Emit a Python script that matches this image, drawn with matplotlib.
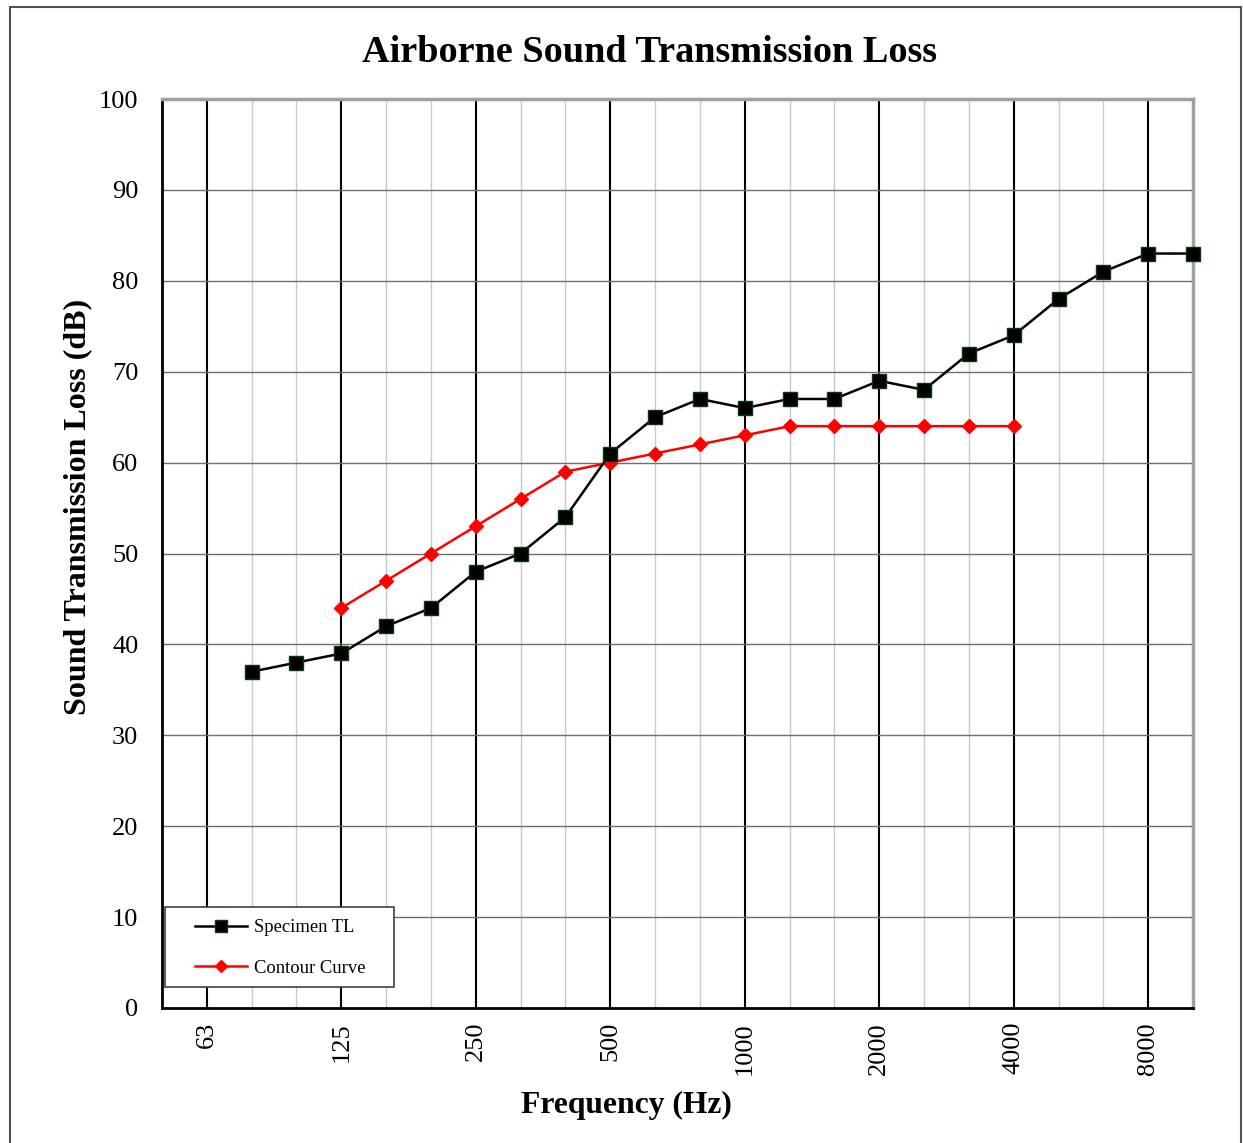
import matplotlib.pyplot as plt
from matplotlib.patches import Rectangle

# Third-octave bands
bands = ["63", "80", "100", "125", "160", "200", "250", "315", "400", "500", "630", "800",
         "1000", "1250", "1600", "2000", "2500", "3150", "4000", "5000", "6300", "8000", "10000"]
octave_labels = ["63", "125", "250", "500", "1000", "2000", "4000", "8000"]

# Specimen TL, 80 Hz .. 10000 Hz
specimen_bands = bands[1:]
specimen_tl = [37, 38, 39, 42, 44, 48, 50, 54, 61, 65, 67, 66, 67, 67, 69, 68, 72, 74, 78, 81, 83, 83]

# Contour curve, 125 Hz .. 4000 Hz
contour_bands = bands[3:19]
contour_tl = [44, 47, 50, 53, 56, 59, 60, 61, 62, 63, 64, 64, 64, 64, 64, 64]

plt.rcParams['font.family'] = ['Liberation Serif', 'DejaVu Serif']

W, H = 1243, 1143
fig = plt.figure(figsize=(W / 100, H / 100), dpi=100)
ax = fig.add_axes([162 / W, 1 - 1008 / H, (1193 - 162) / W, (1008 - 99) / H])

idx = {b: i for i, b in enumerate(bands)}
sx = [idx[b] for b in specimen_bands]
cx = [idx[b] for b in contour_bands]

# grid lines
for i, b in enumerate(bands):
    if b in octave_labels:
        ax.axvline(i, color='black', lw=1.5, zorder=1)
    else:
        ax.axvline(i, color='#c8c8c8', lw=1, zorder=1)
for y in range(10, 100, 10):
    ax.axhline(y, color='#6e6e6e', lw=1, zorder=1)

ax.plot(cx, contour_tl, color='red', lw=1.8, marker='D', markersize=7,
        markerfacecolor='red', markeredgecolor='red', label='Contour Curve', zorder=3)
ax.plot(sx, specimen_tl, color='black', lw=1.8, marker='s', markersize=10,
        markerfacecolor='black', markeredgecolor='#0a3a0a', label='Specimen TL', zorder=4,
        clip_on=False)

ax.set_xlim(-1, 22)
ax.set_ylim(0, 100)
ax.set_yticks(range(0, 101, 10))
ax.set_xticks([idx[b] for b in octave_labels])
ax.set_xticklabels(octave_labels, rotation=90)
ax.tick_params(axis='both', length=0, labelsize=19)
ax.tick_params(axis='y', pad=17)
ax.tick_params(axis='x', pad=10)

for side in ['left', 'bottom']:
    ax.spines[side].set_color('black')
    ax.spines[side].set_linewidth(2)
for side in ['right', 'top']:
    ax.spines[side].set_color('#a0a0a0')
    ax.spines[side].set_linewidth(2.5)

fig.text(650 / W, 1 - 52 / H, 'Airborne Sound Transmission Loss', fontsize=27.5,
         fontweight='bold', ha='center', va='center')
fig.text(626 / W, 1 - 1105 / H, 'Frequency (Hz)', fontsize=22.8,
         fontweight='bold', ha='center', va='center')
fig.text(78 / W, 1 - 507 / H, 'Sound Transmission Loss (dB)', fontsize=23,
         fontweight='bold', ha='center', va='center', rotation=90)

# legend: frame drawn separately
fig.patches.append(Rectangle((165 / W, 1 - 987 / H), (394 - 165) / W, 80 / H,
                             transform=fig.transFigure, facecolor='white',
                             edgecolor='#404040', lw=1.2, zorder=5))
handles, labels = ax.get_legend_handles_labels()
leg = fig.legend(handles[::-1], labels[::-1], loc='upper left',
                 bbox_to_anchor=(195 / W, 1 - 919 / H), fontsize=13.4, frameon=False,
                 borderpad=0, labelspacing=1.27, handlelength=2.8, handletextpad=0.35,
                 borderaxespad=0, markerscale=0.85)
leg.set_zorder(6)

fig.patches.append(Rectangle((10 / W, -0.01), (1241 - 10) / W, 1.01 - 7 / H,
                             transform=fig.transFigure, fill=False, edgecolor='#505050', lw=1.5))

fig.savefig('out.png', dpi=100)
